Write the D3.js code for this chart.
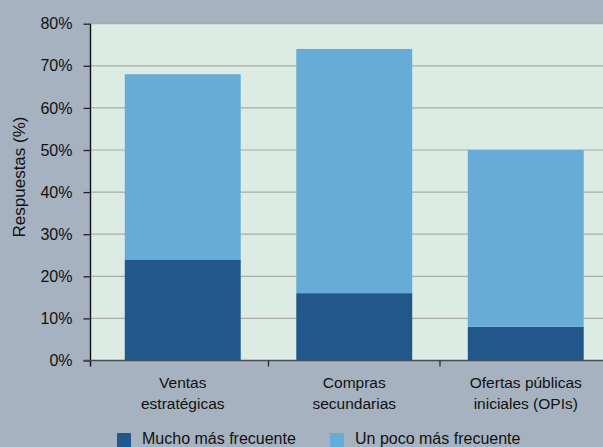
<!DOCTYPE html>
<html><head><meta charset="utf-8">
<script src="https://cdn.jsdelivr.net/npm/d3@7"></script>
<style>
html,body{margin:0;padding:0;background:#a6b2c0;}
svg{display:block;font-family:"Liberation Sans",Arial,sans-serif;}
</style></head>
<body><svg id="c" width="603" height="447"></svg>
<script>
const categories = [["Ventas","estratégicas"],["Compras","secundarias"],["Ofertas públicas","iniciales (OPIs)"]];
const seriesNames = ["Mucho más frecuente","Un poco más frecuente"];
const mucho = [24,16,8];
const poco = [44,58,42];
const yTicks = [0,10,20,30,40,50,60,70,80];
const colors = ["#22578b","#67acd6"];

const svg = d3.select("#c");
const W=603,H=447;
const pLeft=90.5, pTop=23.7, pBottom=360.5;
const x = d3.scaleBand().domain(d3.range(categories.length)).range([97,611.5]).paddingInner(0.324).paddingOuter(0.162);
const y = d3.scaleLinear().domain([0,80]).range([pBottom,pTop]);

svg.append("rect").attr("x",pLeft).attr("y",pTop).attr("width",W-pLeft).attr("height",pBottom-pTop).attr("fill","#dcebe4");

// gridlines
svg.append("g").selectAll("line").data(yTicks.filter(d=>d>0)).join("line")
  .attr("x1",pLeft).attr("x2",W).attr("y1",d=>y(d)).attr("y2",d=>y(d))
  .attr("stroke","#a9acaa").attr("stroke-width",1.2);

const data = categories.map((c,i)=>({i,m:mucho[i],p:poco[i]}));
const stack = d3.stack().keys(["m","p"])(data);
svg.append("g").selectAll("g").data(stack).join("g").attr("fill",(d,k)=>colors[k])
  .selectAll("rect").data(d=>d).join("rect")
  .attr("x",d=>x(d.data.i)).attr("width",x.bandwidth())
  .attr("y",d=>y(d[1])).attr("height",d=>y(d[0])-y(d[1]));

// y axis
const ya = svg.append("g").attr("transform",`translate(${pLeft},0)`)
  .call(d3.axisLeft(y).tickValues(yTicks).tickFormat(d=>d+"%").tickSize(7).tickPadding(11));
ya.select(".domain").remove();
ya.selectAll(".tick line").attr("stroke","#222").attr("stroke-width",1.3);
ya.selectAll("text").attr("font-size",16).attr("fill","#111").attr("font-family","inherit");
svg.append("line").attr("x1",pLeft).attr("x2",pLeft).attr("y1",pTop).attr("y2",pBottom+6).attr("stroke","#111").attr("stroke-width",1.4);

// x axis
svg.append("line").attr("x1",pLeft-7).attr("x2",W).attr("y1",pBottom).attr("y2",pBottom).attr("stroke","#4a4d50").attr("stroke-width",1.6);
const bounds = d3.range(1,categories.length).map(i=>x(i)-x.step()*x.paddingInner()/2);
svg.append("g").selectAll("line").data(bounds).join("line")
  .attr("x1",d=>d).attr("x2",d=>d).attr("y1",pBottom).attr("y2",pBottom+6).attr("stroke","#222").attr("stroke-width",1.2);

const lab = svg.append("g").selectAll("text").data(categories).join("text")
  .attr("text-anchor","middle").attr("font-size",15.5).attr("fill","#111")
  .attr("transform",(d,i)=>`translate(${x(i)+x.bandwidth()/2},0)`);
lab.append("tspan").attr("x",0).attr("y",388).text(d=>d[0]);
lab.append("tspan").attr("x",0).attr("y",409).text(d=>d[1]);

svg.append("text").attr("transform","translate(25,177) rotate(-90)").attr("text-anchor","middle")
  .attr("font-size",17).attr("fill","#111").text("Respuestas (%)");

// legend
const lg = svg.append("g");
const lx = [117,330];
seriesNames.forEach((n,i)=>{
  lg.append("rect").attr("x",lx[i]).attr("y",433).attr("width",14).attr("height",14).attr("fill",colors[i]);
  lg.append("text").attr("x",lx[i]+25).attr("y",443.5).attr("font-size",16).attr("fill","#111").text(n);
});
</script></body></html>
